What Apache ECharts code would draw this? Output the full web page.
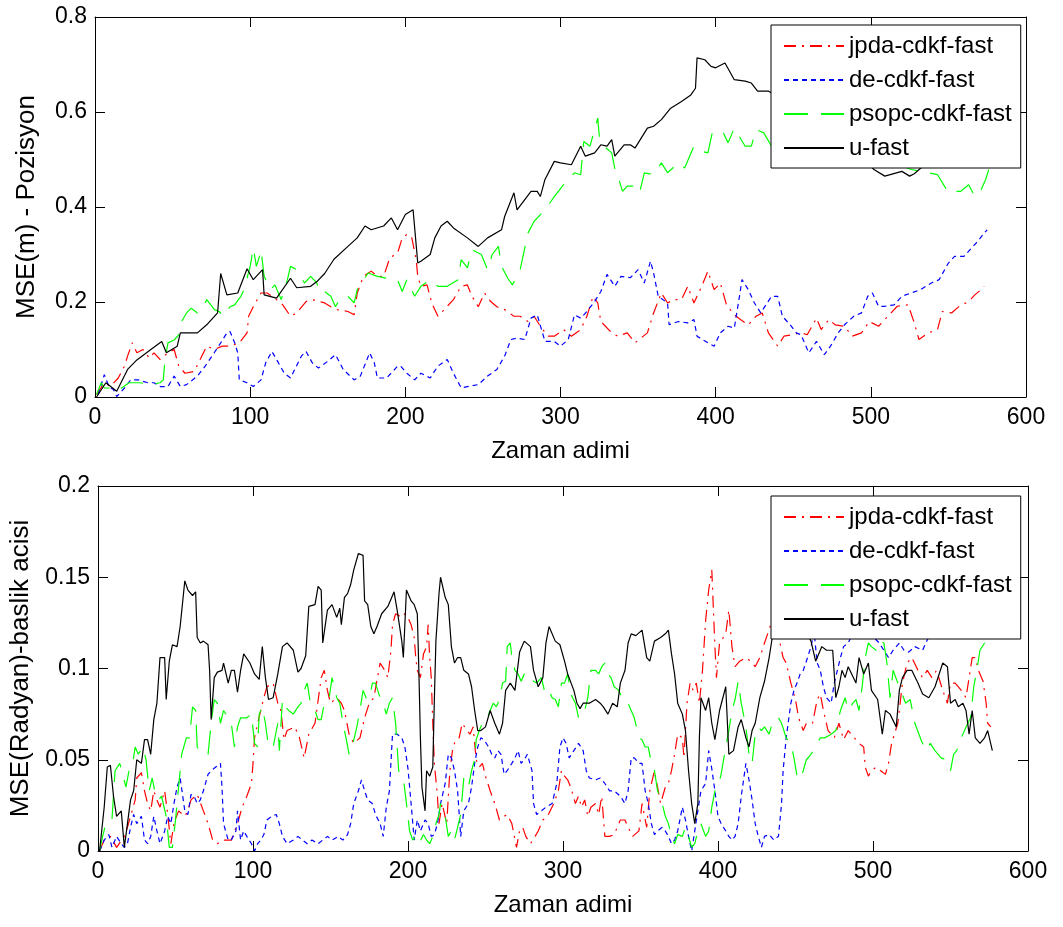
<!DOCTYPE html>
<html>
<head>
<meta charset="utf-8">
<title>MSE - Zaman adimi</title>
<script src="https://cdn.jsdelivr.net/npm/echarts@6/dist/echarts.min.js"></script>
<style>
  html, body { margin: 0; padding: 0; background: #ffffff; }
  #chart { width: 1063px; height: 927px; }
</style>
</head>
<body>
<div id="chart"></div>
<script>
// ---- series names and axis settings ----
const seriesNames = ['jpda-cdkf-fast', 'de-cdkf-fast', 'psopc-cdkf-fast', 'u-fast'];
const xAxisTitle = 'Zaman adimi';
const topYAxisTitle = 'MSE(m) - Pozisyon';
const bottomYAxisTitle = 'MSE(Radyan)-baslik acisi';
const xRange = [0, 600, 100];          // min, max, interval
const topYRange = [0, 0.8, 0.2];
const bottomYRange = [0, 0.2, 0.05];

// ---- position MSE (upper panel) ----
const posJpdaSteps = [1,6,10,15,19,21,24,27,31,35,38,42,47,51,54,58,64,72,77,82,87,93,98,99,102,107,111,117,121,126,130,136,140,148,152,156,163,167,169,173,178,182,186,190,195,198,201,204,207,208,210,214,217,221,225,231,236,240,243,247,251,255,259,264,270,274,279,283,287,292,296,302,307,313,317,321,324,326,333,337,343,348,356,360,365,369,373,378,382,386,391,395,399,403,407,412,416,421,426,430,434,440,444,449,455,459,465,468,473,477,483,488,494,499,505,511,517,524,528,531,537,543,546,552,557,563,567,571,573];
const posJpdaVals = [0.005,0.03,0.022,0.04,0.065,0.086,0.114,0.093,0.1,0.082,0.093,0.079,0.093,0.1,0.065,0.05,0.054,0.107,0.1,0.107,0.107,0.114,0.135,0.17,0.19,0.219,0.219,0.205,0.194,0.17,0.177,0.201,0.205,0.198,0.19,0.184,0.18,0.173,0.219,0.254,0.265,0.254,0.254,0.293,0.303,0.335,0.342,0.338,0.289,0.254,0.233,0.236,0.198,0.17,0.184,0.205,0.233,0.236,0.212,0.19,0.219,0.201,0.19,0.184,0.17,0.17,0.159,0.17,0.149,0.128,0.128,0.142,0.128,0.142,0.17,0.212,0.198,0.159,0.135,0.128,0.135,0.114,0.135,0.177,0.219,0.198,0.205,0.205,0.233,0.198,0.233,0.265,0.226,0.24,0.194,0.173,0.163,0.152,0.17,0.177,0.135,0.107,0.128,0.131,0.135,0.131,0.166,0.142,0.163,0.152,0.149,0.128,0.135,0.159,0.149,0.17,0.191,0.194,0.156,0.121,0.135,0.142,0.18,0.177,0.191,0.201,0.215,0.226,0.233];

const posDeSteps = [2,6,9,12,14,19,23,28,34,38,42,47,51,55,59,66,71,76,81,85,87,90,92,93,98,102,107,110,114,117,122,126,133,136,140,144,150,155,160,167,171,177,180,182,188,195,197,201,206,210,216,221,227,231,236,240,247,253,259,264,268,272,277,281,285,290,296,300,305,309,313,317,322,326,330,335,339,345,350,354,358,360,363,369,370,376,382,386,388,395,399,403,408,412,415,417,421,425,429,436,440,443,448,452,455,460,465,470,474,479,483,489,494,498,501,505,509,515,520,526,532,539,544,550,554,560,565,569,573,575];
const posDeVals = [0.005,0.047,0.022,0.015,0.001,0.019,0.036,0.036,0.03,0.03,0.022,0.022,0.044,0.022,0.026,0.044,0.065,0.089,0.114,0.135,0.138,0.114,0.093,0.036,0.03,0.022,0.036,0.072,0.096,0.079,0.05,0.04,0.086,0.096,0.072,0.061,0.075,0.089,0.058,0.036,0.044,0.093,0.072,0.04,0.04,0.065,0.065,0.05,0.036,0.05,0.04,0.065,0.079,0.05,0.019,0.022,0.026,0.044,0.058,0.086,0.121,0.124,0.121,0.166,0.173,0.117,0.117,0.107,0.121,0.173,0.166,0.18,0.201,0.222,0.258,0.233,0.254,0.251,0.268,0.24,0.286,0.261,0.212,0.198,0.152,0.159,0.156,0.163,0.128,0.114,0.107,0.135,0.149,0.145,0.205,0.247,0.226,0.198,0.177,0.212,0.212,0.17,0.152,0.135,0.131,0.093,0.117,0.089,0.107,0.135,0.152,0.17,0.177,0.212,0.219,0.191,0.191,0.194,0.212,0.219,0.226,0.24,0.247,0.282,0.296,0.296,0.314,0.328,0.345,0.352];

const posPsoSteps = [1,4,6,10,14,22,29,36,42,44,45,47,51,54,56,59,62,66,69,72,77,80,83,87,90,94,96,100,102,104,106,107,109,113,116,120,124,126,130,135,139,143,145,148,152,155,158,163,167,169,176,182,188,195,198,201,206,210,216,221,227,234,236,240,243,249,253,256,260,262,266,269,274,279,283,290,296,302,309,313,315,319,324,325,328,333,336,338,340,343,348,351,354,360,365,369,376,380,386,391,395,398,405,408,412,419,423,426,431,436,450,470,490,510,526,537,543,550,554,558,563,567,571,574,576];
const posPsoVals = [0.005,0.03,0.019,0.019,0.012,0.03,0.03,0.026,0.03,0.036,0.075,0.114,0.12,0.131,0.16,0.177,0.187,0.177,0.184,0.205,0.184,0.18,0.17,0.19,0.194,0.212,0.226,0.275,0.314,0.275,0.296,0.31,0.254,0.226,0.236,0.205,0.247,0.275,0.268,0.24,0.254,0.24,0.219,0.222,0.212,0.19,0.208,0.212,0.198,0.226,0.261,0.254,0.25,0.247,0.222,0.247,0.212,0.233,0.247,0.233,0.233,0.247,0.289,0.272,0.31,0.3,0.268,0.3,0.317,0.275,0.25,0.236,0.268,0.345,0.37,0.394,0.422,0.447,0.472,0.468,0.538,0.528,0.587,0.549,0.528,0.514,0.465,0.454,0.433,0.444,0.444,0.43,0.472,0.468,0.493,0.472,0.493,0.482,0.528,0.517,0.514,0.559,0.556,0.535,0.566,0.528,0.528,0.563,0.556,0.528,0.54,0.53,0.52,0.5,0.479,0.472,0.468,0.43,0.433,0.433,0.447,0.422,0.436,0.458,0.479];

const posUSteps = [1,7,14,21,27,36,43,46,53,55,62,66,72,79,81,85,92,98,102,108,109,117,126,130,139,143,148,154,163,169,174,178,186,191,195,200,205,206,208,210,216,219,223,227,231,240,247,253,262,264,270,272,281,285,287,290,296,300,307,313,316,322,326,330,333,335,341,345,348,356,360,365,371,378,384,387,388,393,397,400,406,412,419,423,427,434,445,460,475,490,502,509,520,525,528,535,545,555,565,575];
const posUVals = [0,0.03,0.012,0.058,0.078,0.1,0.117,0.093,0.107,0.135,0.135,0.135,0.152,0.177,0.26,0.215,0.219,0.27,0.247,0.268,0.215,0.208,0.25,0.23,0.233,0.243,0.26,0.29,0.317,0.335,0.36,0.352,0.36,0.377,0.352,0.384,0.394,0.39,0.282,0.286,0.3,0.335,0.36,0.37,0.356,0.335,0.317,0.335,0.352,0.38,0.43,0.394,0.433,0.433,0.422,0.458,0.496,0.493,0.489,0.528,0.507,0.514,0.531,0.528,0.542,0.507,0.531,0.531,0.524,0.566,0.57,0.584,0.608,0.622,0.636,0.65,0.714,0.71,0.696,0.693,0.703,0.668,0.665,0.661,0.644,0.644,0.62,0.59,0.56,0.52,0.479,0.465,0.475,0.465,0.47,0.49,0.5,0.51,0.52,0.53];

// ---- heading MSE (lower panel) ----
const headJpdaSteps = [1,4,8,12,17,19,22,24,25,28,30,32,34,36,38,40,43,45,47,49,52,56,58,60,64,68,71,74,77,81,86,90,93,96,99,100,101,103,105,107,109,113,116,118,120,122,127,130,133,136,140,144,146,148,150,154,157,159,162,165,169,172,175,178,182,185,187,189,190,192,196,198,200,202,204,205,206,208,210,212,213,214,215,216,217,219,220,222,225,227,229,231,233,235,238,240,242,244,246,248,250,253,256,259,262,264,267,270,272,274,276,279,282,284,287,290,294,297,299,301,303,305,308,310,312,314,316,318,321,323,325,327,330,333,337,340,342,345,349,351,354,356,359,363,366,368,370,372,374,377,378,380,382,384,386,388,390,392,394,396,398,399,401,405,407,409,411,414,418,421,424,427,430,434,438,442,444,447,450,452,455,457,461,464,466,468,471,475,478,481,484,488,491,494,495,497,499,502,505,508,510,512,516,519,522,525,529,532,535,538,541,545,548,550,553,557,560,562,564,566,568,571,573,574,576];
const headJpdaVals = [0,0.006,0.008,0.002,0.008,0.013,0.022,0.028,0.04,0.043,0.033,0.026,0.022,0.033,0.028,0.024,0.033,0.02,0.004,0.015,0.022,0.019,0.022,0.028,0.031,0.022,0.015,0.006,0.004,0.006,0.006,0.015,0.024,0.03,0.037,0.048,0.062,0.07,0.077,0.084,0.09,0.092,0.081,0.077,0.061,0.066,0.068,0.062,0.051,0.064,0.07,0.095,0.099,0.088,0.081,0.084,0.081,0.077,0.064,0.059,0.062,0.073,0.081,0.084,0.103,0.099,0.095,0.11,0.124,0.13,0.128,0.13,0.128,0.124,0.117,0.106,0.099,0.095,0.108,0.112,0.124,0.106,0.095,0.07,0.048,0.03,0.015,0.026,0.015,0.044,0.057,0.061,0.062,0.07,0.066,0.064,0.068,0.05,0.046,0.048,0.041,0.033,0.026,0.017,0.019,0.02,0.015,0.002,0.011,0.013,0.008,0.004,0.008,0.011,0.017,0.019,0.026,0.033,0.044,0.041,0.039,0.035,0.026,0.03,0.024,0.028,0.019,0.024,0.026,0.02,0.03,0.008,0.008,0.009,0.017,0.017,0.013,0.008,0.011,0.026,0.013,0.033,0.044,0.026,0.035,0.037,0.044,0.053,0.064,0.062,0.051,0.081,0.092,0.088,0.092,0.081,0.099,0.126,0.143,0.154,0.112,0.095,0.114,0.119,0.132,0.112,0.101,0.104,0.106,0.104,0.101,0.106,0.114,0.124,0.122,0.106,0.103,0.092,0.083,0.073,0.066,0.07,0.07,0.083,0.086,0.077,0.066,0.062,0.07,0.061,0.066,0.062,0.059,0.057,0.046,0.041,0.044,0.046,0.044,0.042,0.048,0.059,0.07,0.092,0.103,0.106,0.099,0.095,0.099,0.095,0.099,0.088,0.081,0.092,0.092,0.088,0.084,0.095,0.106,0.106,0.099,0.093,0.081,0.07,0.068];

const headDeSteps = [1,4,7,9,12,15,17,19,21,23,25,28,30,32,34,36,38,40,43,45,47,49,51,53,56,58,60,62,64,66,68,71,73,76,79,80,81,84,86,89,90,92,94,96,99,101,103,105,107,109,112,115,117,119,122,126,129,132,135,138,142,145,148,151,155,158,161,163,165,168,170,172,174,177,179,182,184,186,188,190,193,196,198,200,202,204,206,208,211,213,215,217,219,221,224,226,228,230,232,234,236,239,241,243,245,247,249,252,254,256,258,260,262,264,267,269,271,273,275,277,280,281,283,286,289,293,296,298,300,302,304,307,310,313,315,317,321,324,327,330,333,337,340,342,344,346,349,351,353,355,357,359,361,364,366,368,370,372,374,377,379,381,383,385,387,389,392,394,396,398,400,402,405,407,409,411,413,415,418,420,422,424,426,428,430,433,436,439,441,442,444,447,449,451,453,455,457,460,462,464,466,468,470,473,475,477,479,481,484,490,497,504,507,510,513,517,520,523,527,532,540,550,560,570,575];
const headDeVals = [0,0.006,0.009,0.002,0.008,0.004,0.002,0.004,0.013,0.02,0.015,0.019,0.006,0.004,0.008,0.019,0.011,0.004,0.011,0.019,0.015,0.026,0.035,0.04,0.022,0.02,0.031,0.03,0.026,0.028,0.033,0.042,0.044,0.046,0.048,0.035,0.015,0.006,0.006,0.011,0.022,0.006,0.011,0.008,0.004,0,0.004,0.006,0.009,0.017,0.019,0.02,0.015,0.008,0.004,0.006,0.008,0.006,0.004,0.006,0.004,0.006,0.008,0.006,0.008,0.006,0.009,0.015,0.026,0.033,0.039,0.033,0.028,0.026,0.02,0.015,0.008,0.024,0.033,0.064,0.064,0.062,0.057,0.045,0.026,0.006,0.017,0.011,0.017,0.015,0.008,0.009,0.015,0.026,0.037,0.053,0.051,0.044,0.033,0.008,0.022,0.026,0.035,0.048,0.057,0.062,0.061,0.057,0.053,0.051,0.055,0.053,0.042,0.044,0.048,0.051,0.055,0.048,0.05,0.053,0.044,0.026,0.02,0.022,0.024,0.026,0.037,0.057,0.062,0.059,0.051,0.055,0.059,0.055,0.044,0.04,0.039,0.04,0.037,0.033,0.033,0.03,0.026,0.033,0.051,0.051,0.048,0.048,0.033,0.026,0.015,0.009,0.011,0.013,0.011,0.008,0.004,0.006,0.011,0.024,0.017,0.008,0,0.011,0.022,0.033,0.037,0.055,0.045,0.033,0.019,0.015,0.011,0.008,0.006,0.008,0.015,0.03,0.048,0.039,0.028,0.015,0.008,0.002,0.008,0.009,0.006,0.008,0.026,0.044,0.062,0.081,0.088,0.092,0.097,0.099,0.104,0.112,0.12,0.103,0.099,0.09,0.084,0.081,0.092,0.099,0.106,0.112,0.114,0.125,0.12,0.114,0.11,0.106,0.11,0.114,0.11,0.109,0.112,0.11,0.125,0.13,0.12,0.125,0.122];

const headPsoSteps = [1,3,5,7,9,11,14,16,18,20,22,24,26,29,31,33,35,37,39,41,44,46,48,50,52,54,57,59,61,63,64,67,71,73,75,77,79,81,84,86,88,90,92,94,96,99,101,103,104,106,108,110,113,116,117,119,121,123,126,129,131,133,135,137,140,142,144,146,149,151,154,156,158,160,162,164,167,169,171,173,175,177,179,182,184,186,188,190,192,194,197,199,201,203,205,207,210,212,214,216,218,220,221,224,226,228,230,232,234,236,239,241,243,244,246,248,250,253,255,257,259,261,263,264,266,267,269,271,273,275,279,281,283,286,288,290,293,295,297,299,301,303,305,308,310,312,314,316,318,321,323,325,327,329,331,333,336,338,340,342,344,346,349,351,353,355,357,359,361,364,366,368,370,372,374,377,379,381,383,385,387,389,392,394,396,398,400,402,405,407,409,411,413,415,418,420,422,424,426,428,430,433,435,437,439,441,444,447,449,451,453,455,457,460,463,466,469,473,476,479,482,484,487,489,491,493,495,497,499,502,504,507,509,511,513,516,518,521,524,527,531,534,537,540,544,547,550,552,554,557,560,563,565,567,569,572,575,576];
const headPsoVals = [0,0.008,0.015,0.017,0.017,0.044,0.048,0.042,0.035,0.044,0.046,0.057,0.053,0.057,0.05,0.033,0.04,0.031,0.028,0.03,0.019,0.002,0.002,0.017,0.035,0.053,0.062,0.062,0.079,0.077,0.057,0.053,0.053,0.07,0.083,0.081,0.07,0.077,0.073,0.07,0.057,0.068,0.073,0.073,0.073,0.075,0.059,0.057,0.075,0.079,0.07,0.057,0.057,0.07,0.055,0.083,0.079,0.077,0.075,0.079,0.081,0.088,0.092,0.081,0.077,0.072,0.072,0.081,0.083,0.095,0.084,0.081,0.07,0.062,0.053,0.057,0.068,0.077,0.088,0.084,0.083,0.092,0.092,0.084,0.081,0.075,0.081,0.084,0.07,0.044,0.04,0.026,0.011,0.006,0.008,0.004,0.009,0.006,0.004,0.008,0.015,0.02,0.026,0.019,0.008,0.011,0.006,0.013,0.02,0.04,0.035,0.044,0.05,0.061,0.066,0.07,0.07,0.077,0.081,0.079,0.083,0.092,0.093,0.112,0.114,0.106,0.099,0.097,0.093,0.097,0.097,0.093,0.092,0.095,0.088,0.09,0.084,0.083,0.079,0.092,0.092,0.097,0.086,0.081,0.073,0.073,0.077,0.084,0.099,0.099,0.097,0.101,0.103,0.097,0.095,0.09,0.088,0.084,0.081,0.081,0.077,0.073,0.062,0.061,0.057,0.057,0.048,0.044,0.033,0.026,0.019,0.015,0.008,0.004,0.009,0.008,0.013,0.008,0.002,0.004,0.011,0.015,0.008,0.011,0.024,0.033,0.035,0.042,0.057,0.066,0.077,0.083,0.093,0.081,0.068,0.053,0.048,0.064,0.068,0.066,0.068,0.064,0.07,0.073,0.073,0.07,0.062,0.059,0.051,0.041,0.039,0.044,0.05,0.053,0.057,0.062,0.062,0.064,0.066,0.077,0.084,0.077,0.081,0.083,0.077,0.09,0.106,0.114,0.112,0.11,0.115,0.114,0.103,0.084,0.099,0.092,0.088,0.081,0.083,0.07,0.061,0.055,0.059,0.055,0.051,0.05,0.044,0.053,0.055,0.062,0.068,0.073,0.09,0.099,0.11,0.114,0.11,0.108];

const headUSteps = [1,4,6,8,10,12,15,17,19,21,23,25,28,30,32,34,36,38,40,43,44,46,48,51,53,56,58,61,63,64,66,68,71,72,73,75,77,80,81,84,86,88,90,92,94,98,101,104,106,108,110,113,116,119,122,126,129,131,134,136,140,142,144,145,148,151,154,156,157,159,161,163,165,168,171,172,174,176,178,180,183,187,189,191,193,196,197,199,201,202,204,206,207,208,209,211,212,214,216,217,218,220,221,224,226,228,230,232,234,236,239,241,243,245,247,250,253,256,259,261,263,266,269,272,275,279,281,284,287,289,291,295,298,301,303,307,309,311,313,315,317,321,324,326,329,332,335,337,340,342,344,347,351,354,356,359,363,366,368,370,372,374,377,379,381,383,385,387,388,389,392,394,396,398,401,405,407,410,413,415,418,420,422,424,427,430,433,435,436,442,448,454,460,463,467,470,474,476,478,480,482,484,489,491,494,497,499,503,506,508,511,515,517,519,522,525,529,532,536,540,545,548,550,553,555,558,560,562,564,566,569,572,574,577];
const headUVals = [0,0.024,0.046,0.047,0.03,0.019,0.022,0.002,0.015,0.028,0.033,0.05,0.048,0.061,0.061,0.053,0.072,0.081,0.106,0.106,0.083,0.104,0.113,0.112,0.123,0.148,0.143,0.14,0.142,0.117,0.114,0.115,0.113,0.099,0.072,0.095,0.098,0.099,0.103,0.092,0.099,0.099,0.087,0.099,0.108,0.103,0.097,0.094,0.112,0.095,0.083,0.084,0.097,0.112,0.114,0.11,0.098,0.1,0.107,0.134,0.135,0.145,0.143,0.114,0.132,0.135,0.128,0.133,0.124,0.139,0.141,0.146,0.154,0.163,0.162,0.137,0.135,0.123,0.119,0.123,0.13,0.134,0.138,0.142,0.132,0.115,0.106,0.143,0.139,0.137,0.135,0.13,0.099,0.062,0.035,0.022,0.044,0.041,0.046,0.083,0.115,0.141,0.15,0.139,0.135,0.112,0.103,0.106,0.106,0.099,0.097,0.09,0.077,0.066,0.066,0.068,0.077,0.07,0.064,0.07,0.088,0.092,0.088,0.109,0.115,0.112,0.099,0.09,0.095,0.114,0.123,0.115,0.113,0.104,0.097,0.088,0.081,0.078,0.081,0.081,0.081,0.083,0.081,0.079,0.075,0.081,0.079,0.092,0.099,0.114,0.119,0.118,0.121,0.106,0.104,0.115,0.117,0.119,0.121,0.108,0.097,0.081,0.075,0.066,0.044,0.026,0.015,0.026,0.062,0.084,0.077,0.084,0.07,0.061,0.077,0.09,0.053,0.055,0.068,0.072,0.062,0.057,0.066,0.07,0.084,0.093,0.106,0.117,0.125,0.13,0.135,0.125,0.115,0.104,0.112,0.11,0.11,0.084,0.09,0.099,0.095,0.101,0.092,0.106,0.097,0.103,0.088,0.083,0.064,0.077,0.075,0.068,0.088,0.095,0.099,0.099,0.092,0.086,0.084,0.09,0.103,0.101,0.081,0.083,0.079,0.081,0.077,0.064,0.077,0.062,0.059,0.062,0.066,0.055];

// ---- colours and dash patterns for the four methods ----
const lineColors = ['#ff0000', '#0000ff', '#00ff00', '#000000'];
const lineDashes = [[12, 6, 2, 6], [5, 4], [24, 13], 'solid'];

function pairs(steps, vals) {
  return steps.map((s, i) => [s, vals[i]]);
}

const font = "'Liberation Sans', Arial, sans-serif";

function xAxes(gridIndex) {
  const common = {
    gridIndex, type: 'value', min: xRange[0], max: xRange[1], interval: xRange[2],
    splitLine: { show: false },
    axisLine: { show: true, onZero: false, lineStyle: { color: '#000', width: 1 } },
    axisTick: { show: true, inside: true, length: 10, lineStyle: { color: '#000' } }
  };
  return [
    Object.assign({}, common, {
      position: 'bottom',
      axisLabel: { show: true, color: '#000', fontFamily: font, fontSize: 23, margin: 9 },
      name: xAxisTitle, nameLocation: 'middle', nameGap: 42,
      nameTextStyle: { color: '#000', fontFamily: font, fontSize: 24 }
    }),
    Object.assign({}, common, { position: 'top', axisLabel: { show: false } })
  ];
}

function yAxes(gridIndex, range, title, gap) {
  const common = {
    gridIndex, type: 'value', min: range[0], max: range[1], interval: range[2],
    splitLine: { show: false },
    axisLine: { show: true, onZero: false, lineStyle: { color: '#000', width: 1 } },
    axisTick: { show: true, inside: true, length: 10, lineStyle: { color: '#000' } }
  };
  return [
    Object.assign({}, common, {
      position: 'left',
      axisLabel: { show: true, color: '#000', fontFamily: font, fontSize: 23, margin: 8 },
      name: title, nameLocation: 'middle', nameGap: gap, nameRotate: 90,
      nameTextStyle: { color: '#000', fontFamily: font, fontSize: 26 }
    }),
    Object.assign({}, common, { position: 'right', axisLabel: { show: false } })
  ];
}

function panelSeries(axisIdx, dataSets) {
  return dataSets.map((d, i) => ({
    name: seriesNames[i],
    type: 'line',
    xAxisIndex: axisIdx,
    yAxisIndex: axisIdx,
    data: d,
    showSymbol: false,
    symbol: 'none',
    animation: false,
    lineStyle: { color: lineColors[i], width: 1.2, type: lineDashes[i] },
    itemStyle: { color: lineColors[i] }
  }));
}

// one boxed legend per panel, drawn above the curves; only the line sample is shown
function legendAt(top) {
  return {
    show: true,
    orient: 'vertical',
    left: 771,
    top: top,
    padding: [9, 9, 8, 12],
    itemGap: 10,
    itemWidth: 60,
    itemHeight: 14,
    backgroundColor: '#ffffff',
    borderColor: '#000000',
    borderWidth: 1,
    data: seriesNames.slice(),
    itemStyle: { opacity: 0 },
    textStyle: { color: '#000', fontFamily: font, fontSize: 24 },
    selectedMode: false
  };
}

const topSets = [
  pairs(posJpdaSteps, posJpdaVals),
  pairs(posDeSteps, posDeVals),
  pairs(posPsoSteps, posPsoVals),
  pairs(posUSteps, posUVals)
];
const bottomSets = [
  pairs(headJpdaSteps, headJpdaVals),
  pairs(headDeSteps, headDeVals),
  pairs(headPsoSteps, headPsoVals),
  pairs(headUSteps, headUVals)
];

const chart = echarts.init(document.getElementById('chart'), null, { renderer: 'canvas' });
chart.setOption({
  backgroundColor: '#ffffff',
  animation: false,
  legend: [legendAt(25), legendAt(496)],
  grid: [
    { left: 95, top: 17, width: 931, height: 380 },
    { left: 98, top: 486, width: 930, height: 365 }
  ],
  xAxis: [].concat(xAxes(0), xAxes(1)),
  yAxis: [].concat(yAxes(0, topYRange, topYAxisTitle, 55), yAxes(1, bottomYRange, bottomYAxisTitle, 64)),
  series: [].concat(panelSeries(0, topSets), panelSeries(2, bottomSets))
});
</script>
</body>
</html>
